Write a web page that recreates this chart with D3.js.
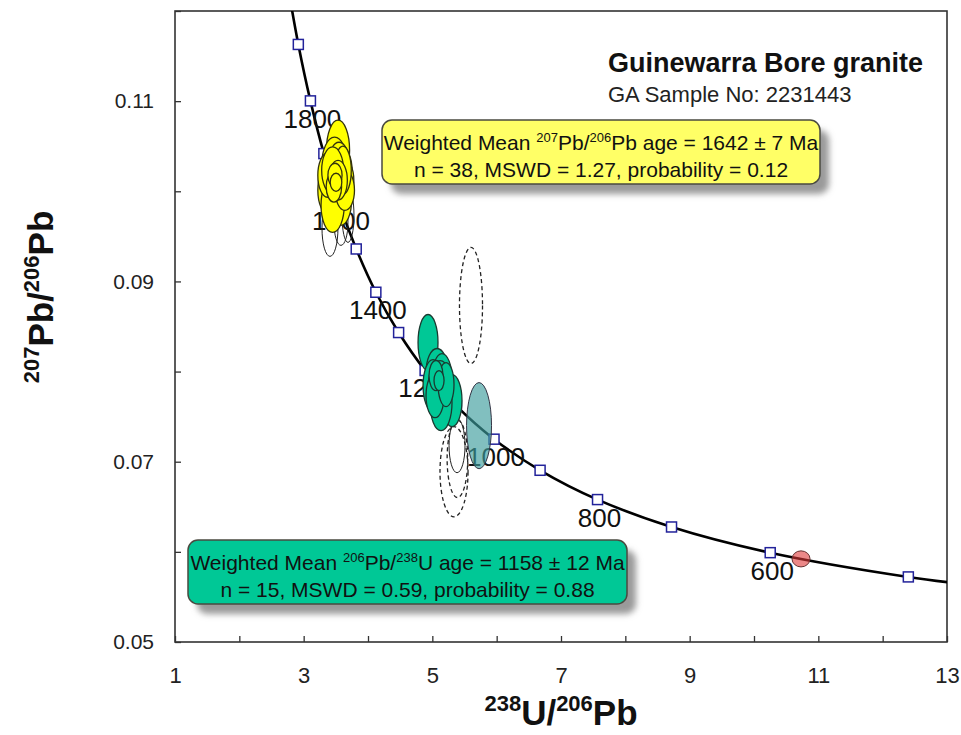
<!DOCTYPE html>
<html>
<head>
<meta charset="utf-8">
<script src="https://cdn.jsdelivr.net/npm/d3@7"></script>
<style>
body { margin: 0; background: #fff; }
text { font-family: "Liberation Sans", Arial, sans-serif; }
</style>
</head>
<body>
<svg id="graph-main" width="961" height="735"></svg>
<script>
// concordia points (Ma)
const concordia_age = [2000, 1900, 1800, 1700, 1600, 1500, 1400, 1300, 1200, 1100, 1000, 900, 800, 700, 600, 500, 450];
const concordia_x = [2.749, 2.917, 3.105, 3.314, 3.549, 3.817, 4.122, 4.476, 4.888, 5.374, 5.959, 6.675, 7.568, 8.718, 10.252, 12.399, 13.83];
const concordia_y = [0.12298, 0.11629, 0.11003, 0.10418, 0.09871, 0.09360, 0.08880, 0.08433, 0.08012, 0.07619, 0.07250, 0.06905, 0.06580, 0.06276, 0.05991, 0.05722, 0.05594];
const marker_ages = [1900, 1800, 1700, 1600, 1500, 1400, 1300, 1200, 1100, 1000, 900, 800, 700, 600, 500];
const label_ages = [1800, 1600, 1400, 1200, 1000, 800, 600];

// ellipses: [x, y, half-width in x, half-height in y]
const yellow_ellipses = [
    [3.534, 0.10456, 0.180, 0.00333], [3.480, 0.10289, 0.200, 0.00311], [3.575, 0.10211, 0.180, 0.00289],
    [3.430, 0.10122, 0.200, 0.00333], [3.518, 0.10067, 0.215, 0.00278], [3.610, 0.10122, 0.170, 0.00244],
    [3.400, 0.10011, 0.180, 0.00278], [3.503, 0.09956, 0.200, 0.00311], [3.575, 0.09900, 0.170, 0.00278],
    [3.450, 0.09844, 0.180, 0.00300], [3.640, 0.10011, 0.150, 0.00222], [3.370, 0.10178, 0.150, 0.00244],
    [3.549, 0.10344, 0.150, 0.00200], [3.610, 0.10233, 0.130, 0.00267], [3.450, 0.10233, 0.170, 0.00260],
    [3.534, 0.10122, 0.145, 0.00220], [3.470, 0.10050, 0.120, 0.00170], [3.487, 0.10178, 0.110, 0.00133],
    [3.503, 0.10100, 0.090, 0.00100]
];
const green_ellipses = [
    [4.933, 0.08322, 0.155, 0.00311], [5.073, 0.07989, 0.171, 0.00267], [5.150, 0.07922, 0.155, 0.00278],
    [5.011, 0.07844, 0.155, 0.00289], [5.120, 0.07811, 0.187, 0.00311], [5.228, 0.07733, 0.155, 0.00278],
    [5.306, 0.07678, 0.155, 0.00289], [5.135, 0.07656, 0.171, 0.00311], [5.042, 0.07733, 0.140, 0.00244],
    [5.213, 0.07856, 0.124, 0.00244], [5.057, 0.07956, 0.109, 0.00167], [5.104, 0.07900, 0.078, 0.00111]
];
const teal_ellipses = [[5.726, 0.07400, 0.194, 0.00478]];
const red_ellipses = [[10.731, 0.05922, 0.140, 0.00089]];
const solid_open_ellipses = [
    [3.409, 0.09589, 0.124, 0.00311], [3.580, 0.09656, 0.109, 0.00256], [3.689, 0.09733, 0.093, 0.00300],
    [5.384, 0.07178, 0.124, 0.00300]
];
const dashed_open_ellipses = [
    [5.601, 0.08733, 0.179, 0.00644], [5.337, 0.06889, 0.218, 0.00500], [5.390, 0.07033, 0.160, 0.00430]
];

const x_ticks = [1, 2, 3, 4, 5, 6, 7, 8, 9, 10, 11, 12, 13];
const x_labels = [1, 3, 5, 7, 9, 11, 13];
const y_ticks = [0.05, 0.06, 0.07, 0.08, 0.09, 0.10, 0.11, 0.12];
const y_labels = [0.05, 0.07, 0.09, 0.11];

const svg = d3.select('#graph-main');
const margin = {top: 11, right: 14, bottom: 93, left: 175};
const width = +svg.attr('width') - margin.left - margin.right;
const height = +svg.attr('height') - margin.top - margin.bottom;

const x = d3.scaleLinear().domain([1, 13]).range([0, width]);
const y = d3.scaleLinear().domain([0.05, 0.12]).range([height, 0]);

const defs = svg.append('defs');
defs.append('clipPath').attr('id', 'plot-clip')
    .append('rect').attr('width', width).attr('height', height);
defs.append('filter').attr('id', 'shadow-blur').attr('x', '-10%').attr('y', '-30%').attr('width', '120%').attr('height', '160%')
    .append('feGaussianBlur').attr('stdDeviation', 3);

const g = svg.append('g').attr('transform', 'translate(' + margin.left + ',' + margin.top + ')');

// axes, ticks pointing inward
g.append('g').attr('transform', 'translate(0,' + height + ')')
    .call(d3.axisBottom(x).tickValues(x_ticks).tickSizeInner(-6).tickSizeOuter(0).tickPadding(25)
        .tickFormat((d) => x_labels.includes(d) ? d : ''))
    .call((a) => {
        a.select('.domain').remove();
        a.selectAll('line').attr('stroke', '#333').attr('stroke-width', 1.3);
        a.selectAll('text').attr('font-size', 22).attr('fill', '#222')
            .style('font-family', '"Liberation Sans", Arial, sans-serif');
    });
g.append('g')
    .call(d3.axisLeft(y).tickValues(y_ticks).tickSizeInner(-6).tickSizeOuter(0).tickPadding(21)
        .tickFormat((d) => y_labels.some((v) => Math.abs(v - d) < 1e-9) ? d3.format('.2f')(d) : ''))
    .call((a) => {
        a.select('.domain').remove();
        a.selectAll('line').attr('stroke', '#333').attr('stroke-width', 1.3);
        a.selectAll('text').attr('font-size', 21).attr('fill', '#222')
            .style('font-family', '"Liberation Sans", Arial, sans-serif');
    });

g.append('rect').attr('width', width).attr('height', height)
    .attr('fill', 'none').attr('stroke', '#333').attr('stroke-width', 1.6);

const plot = g.append('g').attr('clip-path', 'url(#plot-clip)');

// concordia
const concordia_pts = concordia_age.map((a, i) => ({age: a, x: concordia_x[i], y: concordia_y[i]}));
const line = d3.line().x((d) => x(d.x)).y((d) => y(d.y)).curve(d3.curveCatmullRom);
plot.append('path')
    .data([concordia_pts])
    .attr('fill', 'none')
    .attr('stroke', '#000')
    .attr('stroke-width', 2.6)
    .attr('d', line);

const marker_pts = concordia_pts.filter((p) => marker_ages.includes(p.age));
plot.selectAll('.marker').data(marker_pts).enter().append('rect')
    .attr('class', 'marker')
    .attr('x', (d) => x(d.x) - 5).attr('y', (d) => y(d.y) - 5)
    .attr('width', 10).attr('height', 10)
    .attr('fill', '#fff').attr('stroke', '#22229a').attr('stroke-width', 1.5);

const label_pts = concordia_pts.filter((p) => label_ages.includes(p.age));
plot.selectAll('.age-label').data(label_pts).enter().append('text')
    .attr('class', 'age-label')
    .attr('x', (d) => x(d.x) + 2).attr('y', (d) => y(d.y) + 27)
    .attr('text-anchor', 'middle').attr('font-size', 26).attr('fill', '#111')
    .text((d) => d.age);

function draw_ellipses(list, fill, stroke, sw, dash, opacity) {
    plot.append('g').selectAll('ellipse').data(list).enter().append('ellipse')
        .attr('cx', (d) => x(d[0])).attr('cy', (d) => y(d[1]))
        .attr('rx', (d) => x(d[0] + d[2]) - x(d[0]))
        .attr('ry', (d) => y(d[1] - d[3]) - y(d[1]))
        .attr('fill', fill).attr('fill-opacity', opacity)
        .attr('stroke', stroke).attr('stroke-width', sw)
        .attr('stroke-dasharray', dash);
}
draw_ellipses(solid_open_ellipses, 'none', '#222', 1, null, 1);
draw_ellipses(dashed_open_ellipses, 'none', '#222', 1.3, '4,3', 1);
draw_ellipses(yellow_ellipses, '#ffff00', '#33330c', 1.3, null, 1);
draw_ellipses(green_ellipses, '#00c896', '#1a3a30', 1.3, null, 1);
draw_ellipses(teal_ellipses, '#3d9c9c', '#334', 1, null, 0.65);
draw_ellipses(red_ellipses, '#e03838', '#633', 1, null, 0.6);

// text helper with superscripts
function rich_text(parent, px, py, parts, size, sup_size, weight, anchor) {
    const t = parent.append('text').attr('x', px).attr('y', py)
        .attr('font-size', size).attr('font-weight', weight).attr('text-anchor', anchor).attr('fill', '#111');
    let cur = 0;
    parts.forEach((p) => {
        const target = p.sup ? -size * 0.4 : 0;
        const sp = t.append('tspan').text(p.t).attr('dy', target - cur);
        if (p.sup) { sp.attr('font-size', sup_size); }
        cur = target;
    });
    return t;
}

// boxes
function info_box(bx, by, bw, bh, fill, lines) {
    svg.append('rect').attr('x', bx + 9).attr('y', by + 10).attr('width', bw).attr('height', bh)
        .attr('rx', 10).attr('fill', '#9a9a9a').attr('filter', 'url(#shadow-blur)');
    svg.append('rect').attr('x', bx).attr('y', by).attr('width', bw).attr('height', bh)
        .attr('rx', 10).attr('fill', fill).attr('stroke', '#4a4a40').attr('stroke-width', 1.5);
    rich_text(svg, bx + bw / 2, by + 30, lines[0], 21, 13, 'normal', 'middle');
    rich_text(svg, bx + bw / 2, by + 57, lines[1], 21, 13, 'normal', 'middle');
}
info_box(382, 120, 438, 64, '#ffff66', [
    [{t: 'Weighted Mean '}, {t: '207', sup: true}, {t: 'Pb/'}, {t: '206', sup: true}, {t: 'Pb age = 1642 ± 7 Ma'}],
    [{t: 'n = 38, MSWD = 1.27, probability = 0.12'}]
]);
info_box(188, 540, 439, 64, '#00c896', [
    [{t: 'Weighted Mean '}, {t: '206', sup: true}, {t: 'Pb/'}, {t: '238', sup: true}, {t: 'U age = 1158 ± 12 Ma'}],
    [{t: 'n = 15, MSWD = 0.59, probability = 0.88'}]
]);

// title
svg.append('text').attr('x', 608).attr('y', 72).attr('font-size', 27).attr('font-weight', 'bold').attr('fill', '#111')
    .text('Guinewarra Bore granite');
svg.append('text').attr('x', 608).attr('y', 102).attr('font-size', 22).attr('fill', '#222')
    .text('GA Sample No: 2231443');

// axis titles
rich_text(svg, margin.left + width / 2, 725,
    [{t: '238', sup: true}, {t: 'U/'}, {t: '206', sup: true}, {t: 'Pb'}], 35, 22, 'bold', 'middle');
rich_text(svg.append('g').attr('transform', 'translate(53,297) rotate(-90)'), 0, 0,
    [{t: '207', sup: true}, {t: 'Pb/'}, {t: '206', sup: true}, {t: 'Pb'}], 35, 22, 'bold', 'middle');
</script>
</body>
</html>
